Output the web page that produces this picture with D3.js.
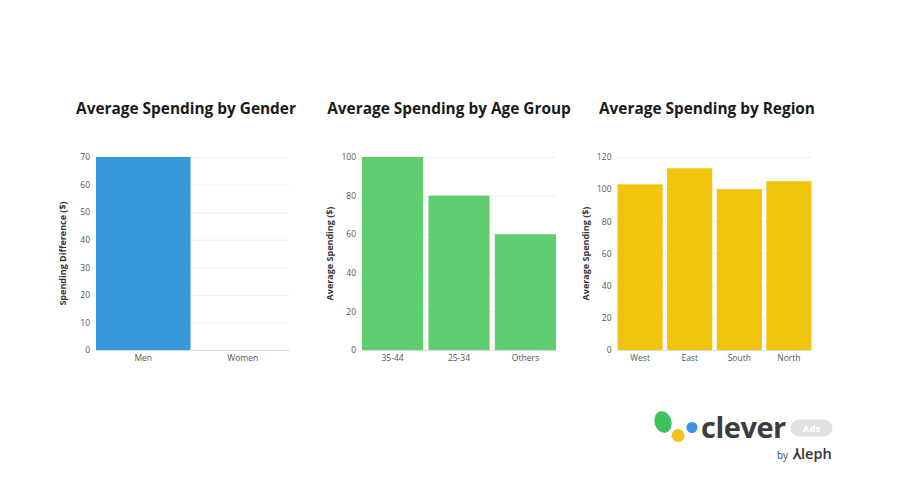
<!DOCTYPE html>
<html>
<head>
<meta charset="utf-8">
<script src="https://cdn.jsdelivr.net/npm/d3@7"></script>
<style>
  html, body { margin: 0; padding: 0; background: #fff; }
  svg { display: block; }
  text { font-family: "Open Sans", "Lato", sans-serif; }
</style>
</head>
<body>
<svg id="chart" width="900" height="500"></svg>
<script>
// ---- data ----
const genderCategories = ["Men", "Women"];
const genderValues = [70, 0];
const genderTicks = [0, 10, 20, 30, 40, 50, 60, 70];

const ageCategories = ["35-44", "25-34", "Others"];
const ageValues = [100, 80, 60];
const ageTicks = [0, 20, 40, 60, 80, 100];

const regionCategories = ["West", "East", "South", "North"];
const regionValues = [103, 113, 100, 105];
const regionTicks = [0, 20, 40, 60, 80, 100, 120];

const titles = ["Average Spending by Gender", "Average Spending by Age Group", "Average Spending by Region"];
const yLabels = ["Spending Difference ($)", "Average Spending ($)", "Average Spending ($)"];

// ---- layout ----
const svg = d3.select("#chart");
const plotTop = 157, plotBottom = 350, plotW = 194;

const panels = [
  { cats: genderCategories, vals: genderValues, ticks: genderTicks, max: 70, left: 96, color: "#3498db", pad: 0.05, titleX: 186, yLabelX: 64 },
  { cats: ageCategories, vals: ageValues, ticks: ageTicks, max: 100, left: 362, color: "#60cd71", pad: 0.08, titleX: 449, yLabelX: 331 },
  { cats: regionCategories, vals: regionValues, ticks: regionTicks, max: 120, left: 617.5, color: "#f0c40f", pad: 0.09, titleX: 707, yLabelX: 587 }
];

panels.forEach((p, i) => {
  const x = d3.scaleBand().domain(p.cats).range([p.left, p.left + plotW]).paddingInner(p.pad).paddingOuter(0);
  const y = d3.scaleLinear().domain([0, p.max]).range([plotBottom, plotTop]);
  const g = svg.append("g");

  g.append("text")
    .attr("x", p.titleX).attr("y", 114)
    .attr("text-anchor", "middle")
    .attr("font-size", 15.4).attr("font-weight", 700)
    .attr("fill", "#1a1a1a")
    .text(titles[i]);

  g.append("g").selectAll("line").data(p.ticks).join("line")
    .attr("x1", p.left).attr("x2", p.left + plotW)
    .attr("y1", d => y(d) + 0.5).attr("y2", d => y(d) + 0.5)
    .attr("stroke", d => d === 0 ? "#dcdcdc" : "#efefef").attr("stroke-width", 1);

  const yAxis = g.append("g")
    .attr("transform", `translate(${p.left},0)`)
    .call(d3.axisLeft(y).tickValues(p.ticks).tickSize(0).tickPadding(6));
  yAxis.select(".domain").remove();
  yAxis.selectAll("text").attr("font-size", 8.5).attr("fill", "#555")
    .attr("font-family", "'Open Sans', sans-serif");

  g.append("g").selectAll("rect").data(p.cats).join("rect")
    .attr("x", d => x(d))
    .attr("width", x.bandwidth())
    .attr("y", (d, k) => y(p.vals[k]))
    .attr("height", (d, k) => plotBottom - y(p.vals[k]))
    .attr("fill", p.color);

  const xAxis = g.append("g")
    .attr("transform", `translate(0,${plotBottom})`)
    .call(d3.axisBottom(x).tickSize(0).tickPadding(5));
  xAxis.select(".domain").remove();
  xAxis.selectAll("text").attr("font-size", 8.5).attr("fill", "#555")
    .attr("font-family", "'Open Sans', sans-serif");

  g.append("text")
    .attr("transform", `translate(${p.yLabelX},${(plotTop + plotBottom) / 2}) rotate(-90)`)
    .attr("text-anchor", "middle")
    .attr("dominant-baseline", "middle")
    .attr("font-size", 9).attr("font-weight", 700)
    .attr("fill", "#333")
    .text(yLabels[i]);
});

// ---- logo ----
const logo = svg.append("g");
logo.append("ellipse").attr("cx", 663).attr("cy", 422).attr("rx", 8.5).attr("ry", 11)
  .attr("transform", "rotate(-15,663,422)").attr("fill", "#3cc35c");
logo.append("circle").attr("cx", 678).attr("cy", 435.5).attr("r", 6.5).attr("fill", "#f3c21a");
logo.append("circle").attr("cx", 692).attr("cy", 427.5).attr("r", 5.5).attr("fill", "#3a95e0");
logo.append("text").attr("x", 701).attr("y", 438)
  .attr("font-size", 29).attr("font-weight", 700).attr("fill", "#3d3d3d")
  .attr("letter-spacing", -0.5)
  .text("clever");
logo.append("rect").attr("x", 790.5).attr("y", 419.5).attr("width", 42).attr("height", 17).attr("rx", 8.5)
  .attr("fill", "#e2e2e2");
logo.append("text").attr("x", 811.5).attr("y", 431.5).attr("text-anchor", "middle")
  .attr("font-size", 9.5).attr("font-weight", 700).attr("fill", "#fff").text("Ads");
logo.append("text").attr("x", 777).attr("y", 459)
  .attr("font-size", 10).attr("fill", "#444").text("by");
logo.append("text").attr("x", 793).attr("y", 459)
  .attr("font-size", 14.5).attr("font-weight", 600).attr("fill", "#333").text("\u2144leph");
</script>
</body>
</html>
